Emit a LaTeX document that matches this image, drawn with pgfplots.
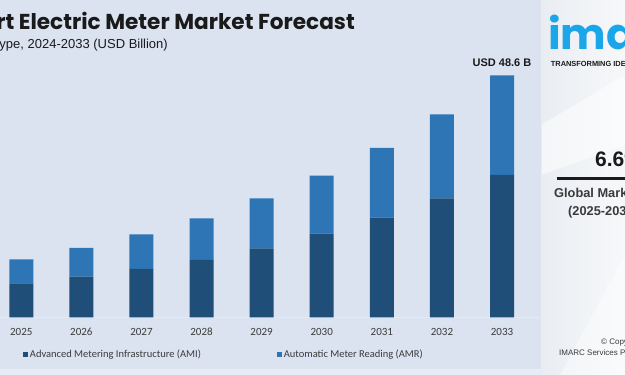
\documentclass[border=0pt]{standalone}
\usepackage{fontspec}
\setmainfont{Carlito}
\newfontfamily\titlefont{Poppins}
\newfontfamily\arialfont{Liberation Sans}
\usepackage{pgfplots}
\pgfplotsset{compat=1.18}
\definecolor{bgblue}{HTML}{DBE3F1}
\definecolor{amiC}{HTML}{1F4E79}
\definecolor{amrC}{HTML}{2E75B6}
\definecolor{tickC}{HTML}{3A3A3A}
\definecolor{titleC}{HTML}{1A1A1A}
\definecolor{logoC}{HTML}{1BA6EA}
\definecolor{panelA}{HTML}{E9EDF2}
\definecolor{panelB}{HTML}{F7F8FA}
\begin{document}
\begin{tikzpicture}[x=1pt,y=1pt]
\useasboundingbox (0,0) rectangle (625,375);
\clip (0,0) rectangle (625,375);
\fill[bgblue] (0,0) rectangle (541,375);
\fill[bgblue!70!white] (0,0) rectangle (541,6);
\shade[left color=panelA, right color=panelB] (541,0) rectangle (625,375);
\fill[white,opacity=0.5] (541,250) -- (625,300) -- (625,230) -- (541,200) -- cycle;
\fill[white,opacity=0.4] (560,0) -- (625,120) -- (625,0) -- cycle;
\draw[white!85!gray, line width=1pt] (541,0) -- (541,375);
\begin{axis}[
  at={(0pt,57.7pt)}, anchor=south west,
  scale only axis, width=540pt, height=257.3pt,
  xmin=-0.354, xmax=8.632, ymin=0, ymax=51.67,
  ybar stacked, bar width=24pt,
  axis x line*=bottom, axis y line=none,
  x axis line style={draw=white!25!bgblue, line width=0.5pt, -},
  ytick=\empty,
  xtick=data,
  xticklabels={2025,2026,2027,2028,2029,2030,2031,2032,2033},
  major tick length=0pt,
  xticklabel style={font=\fontsize{11}{11}\selectfont, text=tickC, anchor=base, yshift=-18.2pt, inner sep=0pt},
  clip=false,
  legend columns=2,
  legend style={at={(0.0425,-0.1438)}, anchor=west, draw=none, fill=none, inner sep=0pt,
    font=\fontsize{10.5}{12}\selectfont, text=tickC,
    /tikz/every even column/.append style={column sep=74pt}},
  legend image code/.code={\fill[#1,draw=none] (0pt,-2.4pt) rectangle (4.8pt,2.4pt);},
]
\addplot[fill=amiC, draw=none] coordinates {(0,6.83) (1,8.15) (2,9.70) (3,11.51) (4,13.86) (5,16.79) (6,20.00) (7,23.90) (8,28.58)};
\addplot[fill=amrC, draw=none] coordinates {(0,4.82) (1,5.77) (2,6.97) (3,8.37) (4,10.04) (5,11.65) (6,14.00) (7,16.87) (8,20.02)};
\legend{Advanced Metering Infrastructure (AMI), Automatic Meter Reading (AMR)}
\node[font=\arialfont\bfseries\fontsize{11}{11}\selectfont, text=titleC] at (axis cs:8,48.6) [yshift=12.3pt] {USD 48.6 B};
\end{axis}
\node[anchor=base east, inner sep=0pt, font=\titlefont\bfseries\fontsize{21.6}{24}\selectfont, text=titleC] at (355,345.7) {Smart Electric Meter Market Forecast};
\node[anchor=base east, inner sep=0pt, font=\arialfont\fontsize{13}{15}\selectfont, text=titleC] at (168,326) {By Type, 2024-2033 (USD Billion)};
\node[anchor=base west, inner sep=0pt, font=\titlefont\bfseries\fontsize{43}{43}\selectfont, text=logoC] at (548,325) {imarc};
\node[anchor=base west, inner sep=0pt, font=\arialfont\bfseries\fontsize{7.4}{8}\selectfont, text=titleC] at (550.7,308) {TRANSFORMING IDEAS};
\node[anchor=base west, inner sep=0pt, font=\arialfont\bfseries\fontsize{21}{22}\selectfont, text=titleC] at (595,208.3) {6.6\%};
\draw[titleC, line width=2.5pt] (556.7,196.7) -- (640,196.7);
\node[anchor=base west, inner sep=0pt, font=\arialfont\bfseries\fontsize{12.8}{13}\selectfont, text=tickC] at (554,177.3) {Global Market Growth Rate};
\node[anchor=base west, inner sep=0pt, font=\arialfont\bfseries\fontsize{12.8}{13}\selectfont, text=tickC] at (568,159) {(2025-2033)};
\node[anchor=base west, inner sep=0pt, font=\arialfont\fontsize{8}{8}\selectfont, text=tickC] at (601,30.5) {\textcopyright\ Copyright};
\node[anchor=base west, inner sep=0pt, font=\arialfont\fontsize{8}{8}\selectfont, text=tickC] at (559,19) {IMARC Services Private Limited};
\end{tikzpicture}
\end{document}
